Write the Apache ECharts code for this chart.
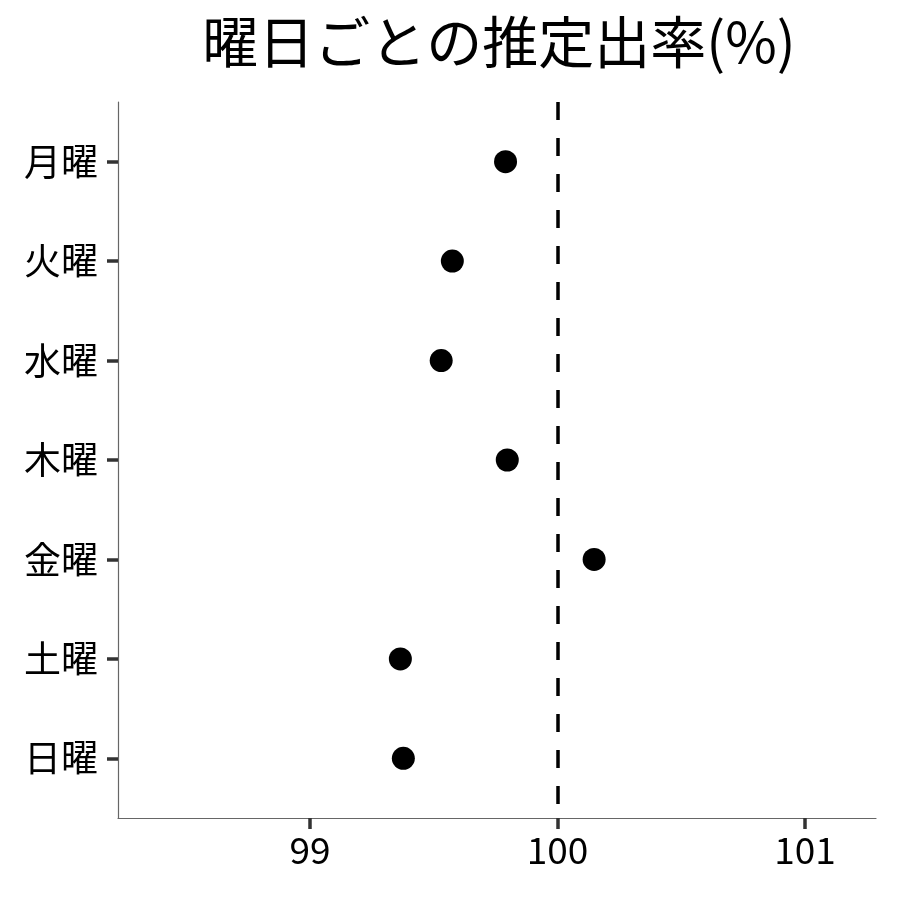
<!DOCTYPE html>
<html><head><meta charset="utf-8">
<script src="https://cdn.jsdelivr.net/npm/echarts@6/dist/echarts.min.js"></script>
<style>html,body{margin:0;padding:0;background:#fff}#c{width:900px;height:900px}</style>
</head><body><div id="c"></div>
<script>
const days = ['月曜','火曜','水曜','木曜','金曜','土曜','日曜'];
const rates = [99.79, 99.575, 99.53, 99.797, 100.148, 99.365, 99.377];
const xTicks = [99, 100, 101];
const refValue = 100;
const titleText = '曜日ごとの推定出率(%)';

const FONT = '"Noto Sans CJK JP", "Noto Sans", sans-serif';
const chart = echarts.init(document.getElementById('c'));
chart.setOption({
  animation: false,
  title: { text: titleText, left: 494, top: 9, textAlign: 'center',
    textStyle: { fontFamily: FONT, fontSize: 56, fontWeight: 'normal', color: '#000' } },
  grid: { left: 118, right: 24, top: 102, bottom: 82 },
  xAxis: {
    type: 'value', min: 98.224, max: 101.287,
    axisLine: { show: true, onZero: false, lineStyle: { color: '#666', width: 1.2 } },
    axisTick: { show: true, customValues: xTicks, length: 11, lineStyle: { color: '#333', width: 3.5 } },
    axisLabel: { customValues: xTicks, fontFamily: FONT, fontSize: 37, color: '#000', margin: 13 },
    splitLine: { show: false }
  },
  yAxis: {
    type: 'value', min: -0.6, max: 6.6, inverse: true,
    axisLine: { show: true, onZero: false, lineStyle: { color: '#666', width: 1.2 } },
    axisTick: { show: true, customValues: days.map((d,i)=>i), length: 11, lineStyle: { color: '#333', width: 3.5 } },
    axisLabel: { customValues: days.map((d,i)=>i), formatter: v => days[Math.round(v)],
      fontFamily: FONT, fontSize: 37, color: '#000', margin: 20 },
    splitLine: { show: false }
  },
  series: [{
    type: 'scatter', symbol: 'circle', symbolSize: 23,
    itemStyle: { color: '#000', opacity: 1 },
    data: rates.map((r,i)=>[r,i]),
    markLine: {
      silent: true, symbol: 'none', label: { show: false },
      lineStyle: { type: [18, 18], color: '#000', width: 3.5, opacity: 1 },
      data: [[{ coord: [refValue, -0.6] }, { coord: [refValue, 6.6] }]]
    }
  }]
});
</script></body></html>
